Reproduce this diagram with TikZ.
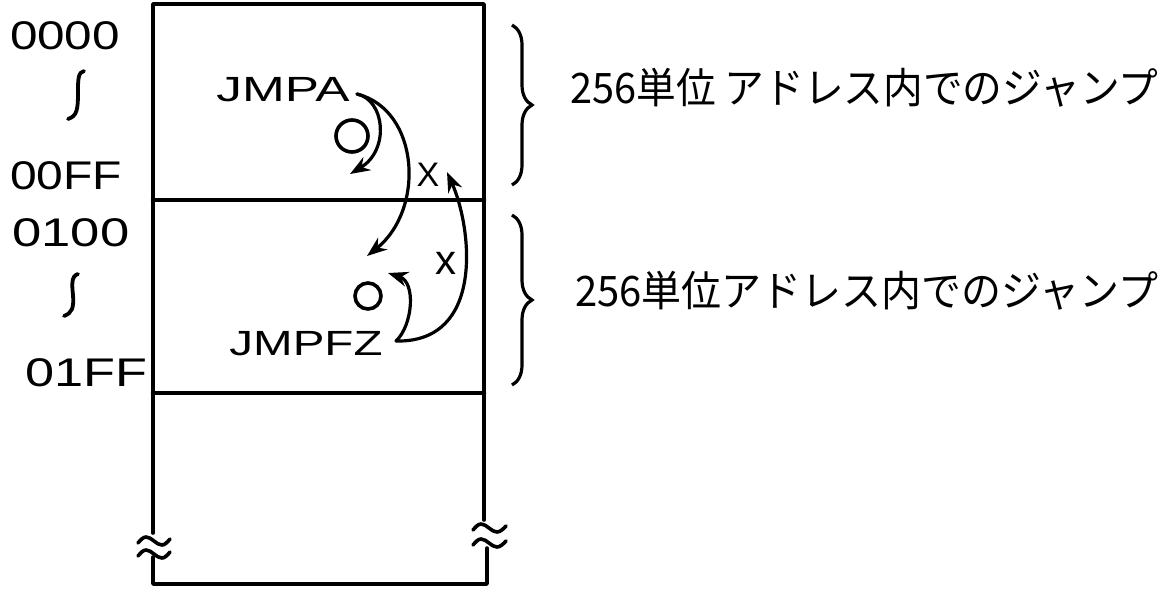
\documentclass[tikz,border=0pt]{standalone}
\usepackage{fontspec}
\usepackage{graphicx}
\usetikzlibrary{arrows.meta,decorations.pathreplacing}
\newfontfamily\handfont{Liberation Sans}
\newfontfamily\jpfont{Noto Sans CJK JP}
\newcommand{\fitw}[2]{\resizebox{#1}{\height}{#2}}
\begin{document}
\begin{tikzpicture}[x=1pt,y=-1pt,
  wall/.style={line width=3.6pt,line cap=round,line join=round},
  divider/.style={line width=4.5pt,line cap=round},
  tildemark/.style={line width=3.6pt,line cap=round},
  jumparrow/.style={line width=3.2pt,line cap=round,-{Stealth[length=20pt,width=15pt]}},
  addr/.style={font=\handfont\fontsize{40}{40}\selectfont,inner sep=0pt},
  code/.style={font=\handfont\fontsize{35}{35}\selectfont,inner sep=0pt},
  okmark/.style={circle,draw,line width=3.6pt,inner sep=0pt},
  ngmark/.style={font=\handfont\fontsize{34}{34}\selectfont,inner sep=0pt},
  note/.style={font=\jpfont\fontsize{42}{42}\selectfont,inner sep=0pt,anchor=west},
  rangebrace/.style={decorate,decoration={brace,amplitude=20pt},line width=3.2pt},
  rangesign/.style={line width=3.8pt,line cap=round}
]
\useasboundingbox (0,0) rectangle (1166,590);
\fill[white] (0,0) rectangle (1166,590);

% memory box
\draw[wall] (153,533) -- (153,4) -- (484,4) -- (484,520);
\draw[wall] (153,557) -- (153,584) -- (487,584) -- (487,548);
\draw[divider] (153,200) -- (484,200);
\draw[divider] (153,393) -- (484,393);

% break marks
\draw[tildemark] (138,543) sin (146,537) cos (154,541) sin (162,545) cos (170,539);
\draw[tildemark] (138,556) sin (146,550) cos (154,554) sin (162,558) cos (170,552);
\draw[tildemark] (473,530) sin (481,524) cos (489,528) sin (497,532) cos (506,526);
\draw[tildemark] (473,545) sin (481,539) cos (489,543) sin (497,547) cos (506,541);

% address labels
\node[addr] (a0000) at (65,36) {\fitw{110pt}{0000}};
\draw[rangesign] (84,71) .. controls (78,72) and (78,80) .. (78,92) .. controls (78,110) and (77,116) .. (68,119);
\node[addr] (a00FF) at (66,176) {\fitw{112pt}{00FF}};
\node[addr] (a0100) at (71,233) {\fitw{117pt}{0100}};
\draw[rangesign] (78,274) .. controls (71,276) and (72,285) .. (73,295) .. controls (74,308) and (72,313) .. (64,316);
\node[addr] (a01FF) at (86,373) {\fitw{122pt}{01FF}};

% upper block
\node[code] (jmpa) at (283,90) {\fitw{133pt}{JMPA}};
\node[okmark,minimum size=32pt] (okA) at (352,136) {};
\node[ngmark] (ngA) at (428,175) {X};
\coordinate (sA) at (357,94);

% lower block
\node[code] (jmpfz) at (306,344) {\fitw{153pt}{JMPFZ}};
\node[okmark,minimum size=26pt] (okZ) at (368,296) {};
\node[ngmark,font=\handfont\fontsize{42}{42}\selectfont] (ngZ) at (446,263) {x};
\coordinate (sZ) at (396,341);

% jump arrows
\coordinate (tA1) at (350,174);
\coordinate (tA2) at (367,256);
\coordinate (tZ1) at (388,273);
\coordinate (tZ2) at (447,172);
\draw[jumparrow] (sA) .. controls (385,100) and (390,150) .. (tA1);
\draw[jumparrow] (sA) .. controls (420,110) and (425,210) .. (tA2);
\draw[jumparrow] (sZ) .. controls (413,325) and (416,282) .. (tZ1);
\draw[jumparrow] (sZ) .. controls (485,343) and (472,228) .. (tZ2);

% braces and notes
\draw[rangebrace] (512,25) -- (512,185);
\node[note] (noteA) at (570,88) {\fitw{588pt}{256単位 アドレス内でのジャンプ}};
\draw[rangebrace] (512,215) -- (512,385);
\node[note] (noteZ) at (575,291) {\fitw{583pt}{256単位アドレス内でのジャンプ}};
\end{tikzpicture}
\end{document}
